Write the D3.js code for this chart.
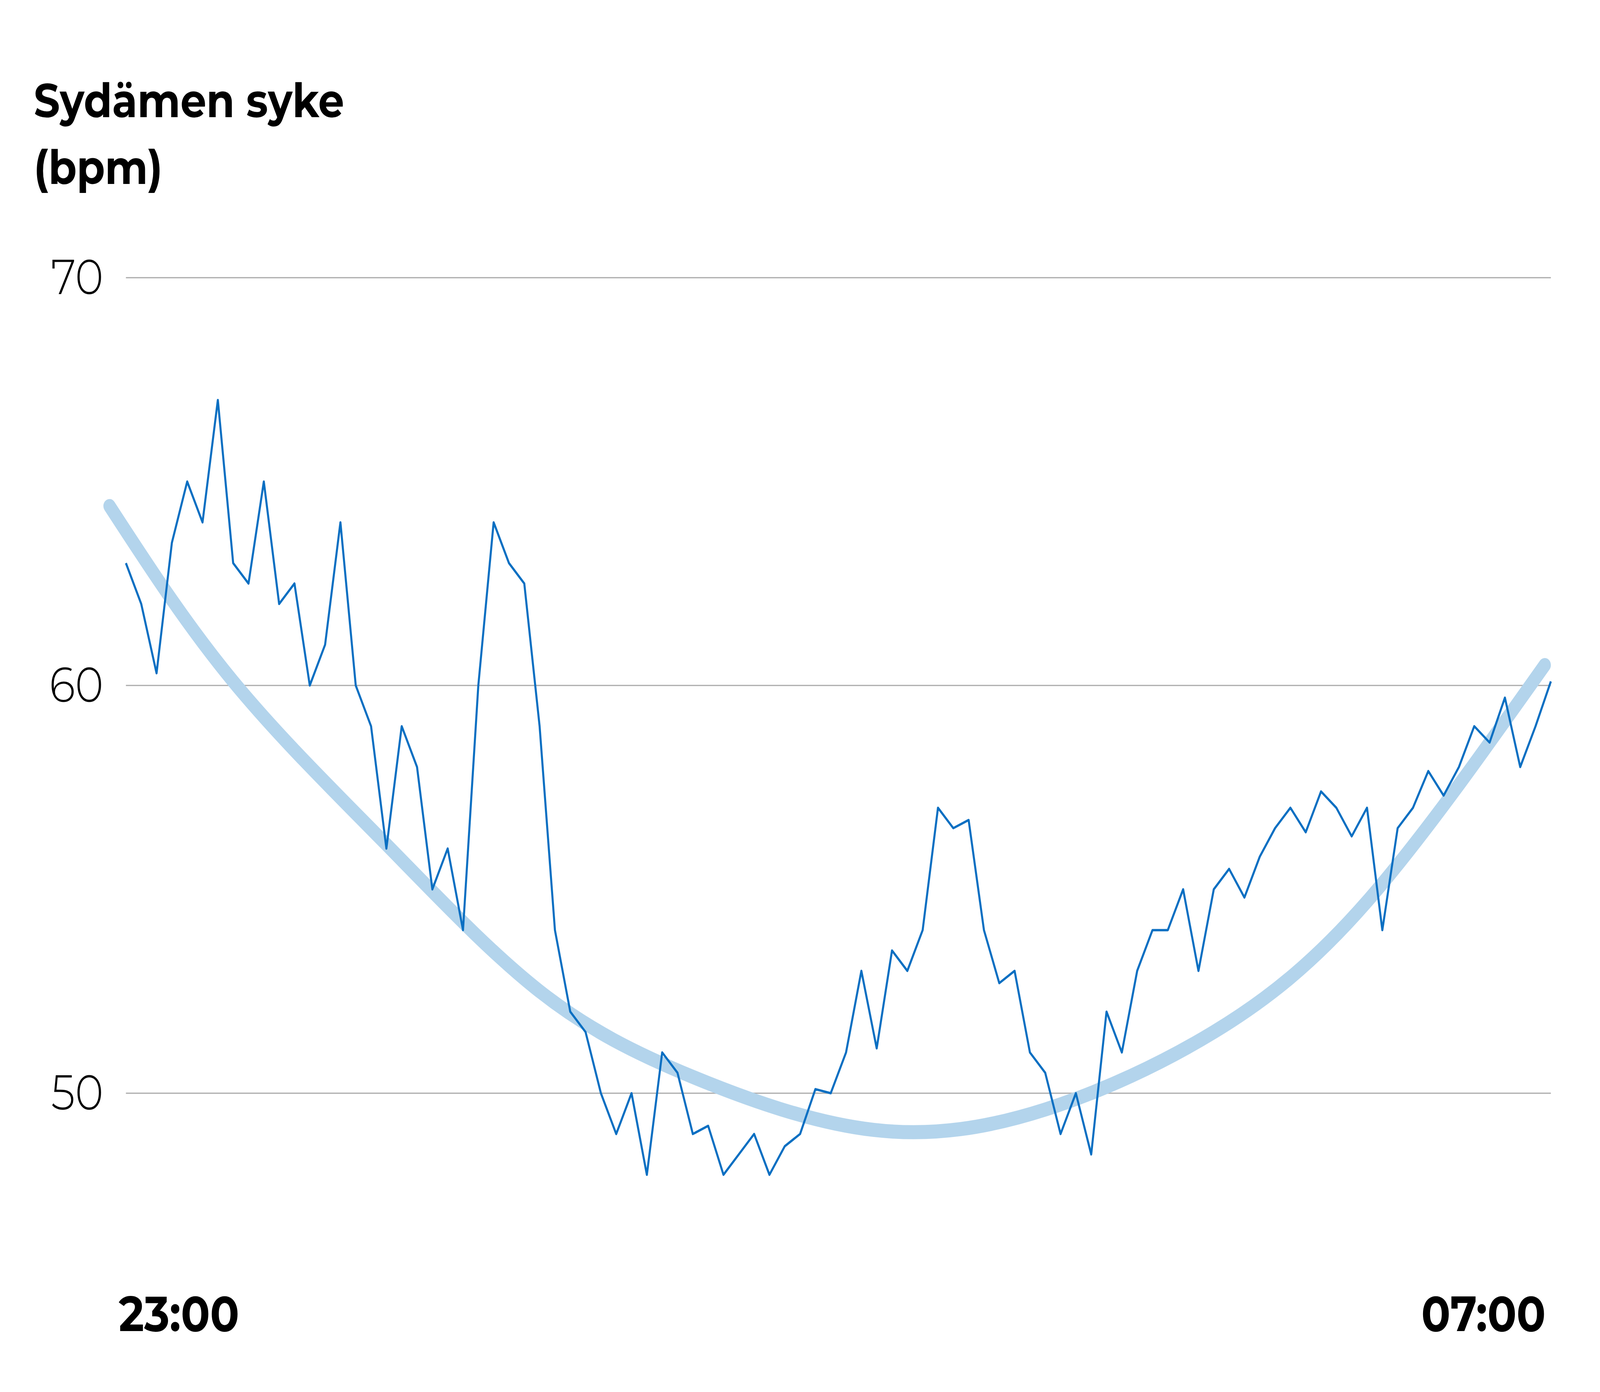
<!DOCTYPE html>
<html><head><meta charset="utf-8">
<script src="https://cdn.jsdelivr.net/npm/d3@7"></script>
<style>html,body{margin:0;padding:0;background:#fff;overflow:hidden}svg{display:block;width:100vw;height:100vh}</style>
</head><body>
<svg id="c" viewBox="0 0 1563 1188" preserveAspectRatio="none"></svg>
<script>
// heart rate samples, roughly every 5 min from 23:00 to 07:00
var heartRate = [63.0,62.0,60.3,63.5,65.0,64.0,67.0,63.0,62.5,65.0,62.0,62.5,60.0,61.0,64.0,60.0,59.0,56.0,59.0,58.0,
  55.0,56.0,54.0,60.0,64.0,63.0,62.5,59.0,54.0,52.0,51.5,50.0,49.0,50.0,48.0,51.0,50.5,49.0,49.2,48.0,
  48.5,49.0,48.0,48.7,49.0,50.1,50.0,51.0,53.0,51.1,53.5,53.0,54.0,57.0,56.5,56.7,54.0,52.7,53.0,51.0,
  50.5,49.0,50.0,48.5,52.0,51.0,53.0,54.0,54.0,55.0,53.0,55.0,55.5,54.8,55.8,56.5,57.0,56.4,57.4,57.0,
  56.3,57.0,54.0,56.5,57.0,57.9,57.3,58.0,59.0,58.6,59.7,58.0,59.0,60.1];
// trend line, sample index -> bpm
var trendIdx = [-1.07,7,17,27,37,48.8,60,71,81,92.6];
var trendVal = [64.4,60.1,56.1,52.5,50.4,49.1,49.6,51.5,54.7,60.5];
var yTicks = [50,60,70];
var xLabels = ["23:00","07:00"];

var svg = d3.select("#c");
var n = heartRate.length;
var x = d3.scaleLinear().domain([0, n - 1]).range([123, 1515]);
var y = d3.scaleLinear().domain([50, 70]).range([933, 237]);
var font = "Montserrat, 'Noto Sans', sans-serif";

svg.append("text").attr("x",33).attr("y",100).attr("font-family",font).attr("font-weight",700)
  .attr("font-size",40).text("Sydämen syke");
svg.append("text").attr("x",33).attr("y",157).attr("font-family",font).attr("font-weight",700)
  .attr("font-size",40).text("(bpm)");

yTicks.forEach(function(t){
  svg.append("line").attr("x1",123).attr("x2",1515).attr("y1",y(t)).attr("y2",y(t))
    .attr("stroke","#aaa").attr("stroke-width",1);
  svg.append("text").attr("x",101).attr("y",y(t)+14).attr("text-anchor","end")
    .attr("font-family",font).attr("font-weight",300).attr("font-size",42).text(t);
});

var trend = trendIdx.map(function(d,i){ return [d, trendVal[i]]; });
svg.append("path").datum(trend)
  .attr("d", d3.line().x(function(d){return x(d[0]);}).y(function(d){return y(d[1]);}).curve(d3.curveNatural))
  .attr("fill","none").attr("stroke","#b3d4ec").attr("stroke-width",12).attr("stroke-linecap","round");

svg.append("path").datum(heartRate)
  .attr("d", d3.line().x(function(d,i){return x(i);}).y(function(d){return y(d);}))
  .attr("fill","none").attr("stroke","#0a6fc2").attr("stroke-width",2).attr("stroke-linejoin","round");

svg.append("text").attr("x",116).attr("y",1136).attr("font-family",font).attr("font-weight",700)
  .attr("font-size",42).text(xLabels[0]);
svg.append("text").attr("x",1510).attr("y",1136).attr("text-anchor","end").attr("font-family",font)
  .attr("font-weight",700).attr("font-size",42).text(xLabels[1]);
</script>
</body></html>
